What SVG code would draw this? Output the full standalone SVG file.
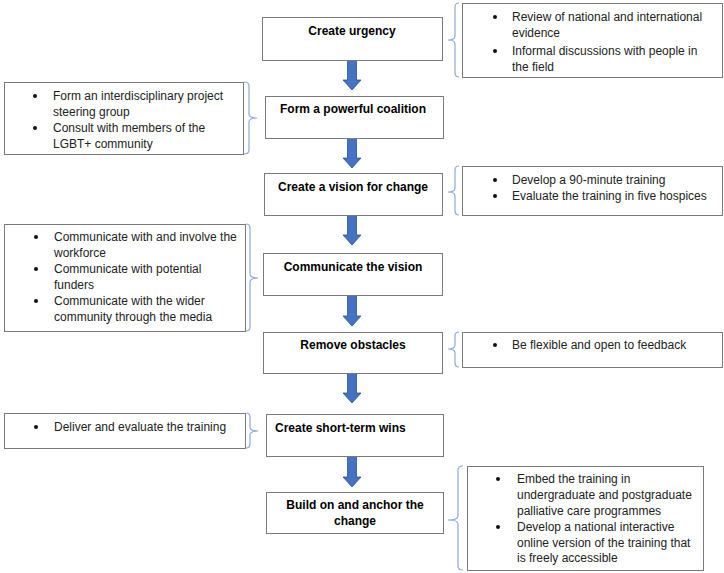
<svg xmlns="http://www.w3.org/2000/svg" width="724" height="573" viewBox="0 0 724 573">
<defs>
<style>
.bg{fill:#ffffff}
.box{fill:#ffffff;stroke:#7a7a7a;stroke-width:1}
.title{font-family:"Liberation Sans",Arial,sans-serif;font-size:12px;font-weight:bold;fill:#000000;text-anchor:middle}
.t{font-family:"Liberation Sans",Arial,sans-serif;font-size:12px;fill:#222222}
.dot{fill:#111111}
.brace{fill:none;stroke:#8eaadb;stroke-width:1.2}
.arrow{fill:#4472c4;stroke:#2f528f;stroke-width:0.8}
</style>
</defs>
<rect class="bg" x="0" y="0" width="724" height="573"/>

<g id="connectors">
<polygon class="arrow" points="347.5,60 356.5,60 356.5,80 361,80 352,90 343,80 347.5,80"/>
<polygon class="arrow" points="347.5,138 356.5,138 356.5,158 361,158 352,168 343,158 347.5,158"/>
<polygon class="arrow" points="347.5,215 356.5,215 356.5,235 361,235 352,245 343,235 347.5,235"/>
<polygon class="arrow" points="347.5,295 356.5,295 356.5,316 361,316 352,326 343,316 347.5,316"/>
<polygon class="arrow" points="347.5,373 356.5,373 356.5,393 361,393 352,403 343,393 347.5,393"/>
<polygon class="arrow" points="347.5,456 356.5,456 356.5,477 361,477 352,487 343,477 347.5,477"/>
<path class="brace" d="M459,3 Q455,3 455,7 V36 Q455,40 448,40 Q455,40 455,44 V73 Q455,77 459,77"/>
<path class="brace" d="M244,82 Q249,82 249,86 V114 Q249,118 257,118 Q249,118 249,122 V150 Q249,154 244,154"/>
<path class="brace" d="M459,166 Q455,166 455,170 V188 Q455,192 448,192 Q455,192 455,196 V211 Q455,215 459,215"/>
<path class="brace" d="M246,224 Q250,224 250,228 V274 Q250,278 258,278 Q250,278 250,282 V327 Q250,331 246,331"/>
<path class="brace" d="M459,332 Q455,332 455,336 V345 Q455,349 448,349 Q455,349 455,353 V363 Q455,367 459,367"/>
<path class="brace" d="M246,413 Q250,413 250,417 V427 Q250,431 258,431 Q250,431 250,435 V444 Q250,448 246,448"/>
<path class="brace" d="M463,466 Q458,466 458,470 V516 Q458,520 448,520 Q458,520 458,524 V566 Q458,570 463,570"/>
</g>

<g id="create-urgency">
<rect class="box" x="262.5" y="17.5" width="180" height="43"/>
<text class="title" x="352" y="35">Create urgency</text>
</g>
<g id="note-urgency">
<rect class="box" x="462.5" y="3.5" width="260" height="74"/>
<circle class="dot" cx="495" cy="17" r="2"/>
<text class="t" x="512" y="21">Review of national and international</text>
<text class="t" x="512" y="37">evidence</text>
<circle class="dot" cx="495" cy="51" r="2"/>
<text class="t" x="512" y="55">Informal discussions with people in</text>
<text class="t" x="512" y="71">the field</text>
</g>

<g id="form-coalition">
<rect class="box" x="265.5" y="96.5" width="178" height="42"/>
<text class="title" x="353" y="113">Form a powerful coalition</text>
</g>
<g id="note-coalition">
<rect class="box" x="4.5" y="82.5" width="239" height="72"/>
<circle class="dot" cx="35" cy="96" r="2"/>
<text class="t" x="53" y="100">Form an interdisciplinary project</text>
<text class="t" x="53" y="116">steering group</text>
<circle class="dot" cx="35" cy="128" r="2"/>
<text class="t" x="53" y="132">Consult with members of the</text>
<text class="t" x="53" y="148">LGBT+ community</text>
</g>

<g id="create-vision">
<rect class="box" x="264.5" y="173.5" width="178" height="42"/>
<text class="title" x="353" y="191">Create a vision for change</text>
</g>
<g id="note-vision">
<rect class="box" x="462.5" y="166.5" width="260" height="49"/>
<circle class="dot" cx="495" cy="180" r="2"/>
<text class="t" x="512" y="184">Develop a 90-minute training</text>
<circle class="dot" cx="495" cy="196" r="2"/>
<text class="t" x="512" y="200">Evaluate the training in five hospices</text>
</g>

<g id="communicate-vision">
<rect class="box" x="263.5" y="253.5" width="179" height="42"/>
<text class="title" x="353" y="271">Communicate the vision</text>
</g>
<g id="note-communicate">
<rect class="box" x="4.5" y="224.5" width="241" height="107"/>
<circle class="dot" cx="36" cy="237" r="2"/>
<text class="t" x="54" y="241">Communicate with and involve the</text>
<text class="t" x="54" y="257">workforce</text>
<circle class="dot" cx="36" cy="269" r="2"/>
<text class="t" x="54" y="273">Communicate with potential</text>
<text class="t" x="54" y="289">funders</text>
<circle class="dot" cx="36" cy="301" r="2"/>
<text class="t" x="54" y="305">Communicate with the wider</text>
<text class="t" x="54" y="321">community through the media</text>
</g>

<g id="remove-obstacles">
<rect class="box" x="263.5" y="332.5" width="179" height="41"/>
<text class="title" x="353" y="349">Remove obstacles</text>
</g>
<g id="note-obstacles">
<rect class="box" x="462.5" y="332.5" width="260" height="35"/>
<circle class="dot" cx="495" cy="345" r="2"/>
<text class="t" x="512" y="349">Be flexible and open to feedback</text>
</g>

<g id="short-term-wins">
<rect class="box" x="266.5" y="414.5" width="177" height="42"/>
<text class="title" x="275" y="432" style="text-anchor:start">Create short-term wins</text>
</g>
<g id="note-wins">
<rect class="box" x="4.5" y="413.5" width="241" height="35"/>
<circle class="dot" cx="36" cy="427" r="2"/>
<text class="t" x="54" y="431">Deliver and evaluate the training</text>
</g>

<g id="anchor-change">
<rect class="box" x="266.5" y="492.5" width="177" height="41"/>
<text class="title" x="355" y="509">Build on and anchor the</text>
<text class="title" x="355" y="525">change</text>
</g>
<g id="note-anchor">
<rect class="box" x="467.5" y="466.5" width="236" height="104"/>
<circle class="dot" cx="498" cy="479" r="2"/>
<text class="t" x="517" y="483">Embed the training in</text>
<text class="t" x="517" y="499">undergraduate and postgraduate</text>
<text class="t" x="517" y="515">palliative care programmes</text>
<circle class="dot" cx="498" cy="527" r="2"/>
<text class="t" x="517" y="531">Develop a national interactive</text>
<text class="t" x="517" y="547">online version of the training that</text>
<text class="t" x="517" y="562">is freely accessible</text>
</g>
</svg>
